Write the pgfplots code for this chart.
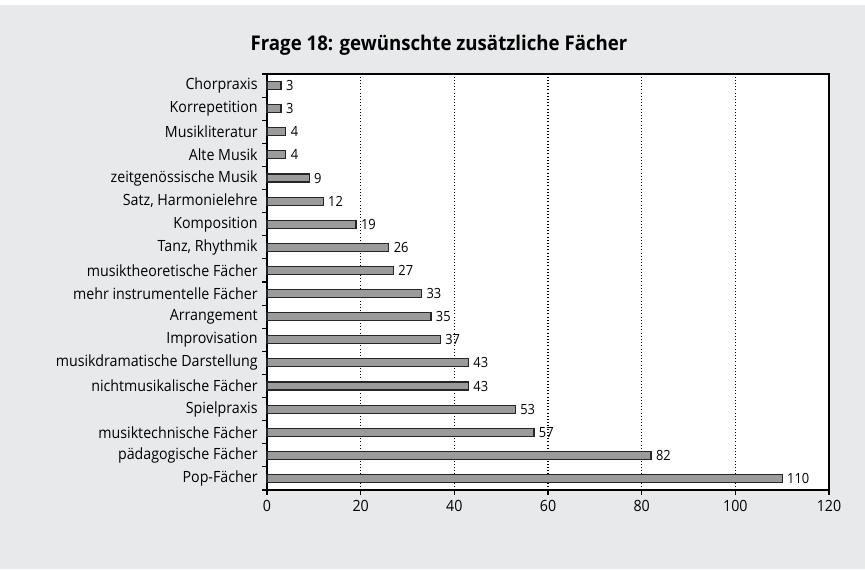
\documentclass[border=0pt]{standalone}
\usepackage{fontspec}
\setmainfont{Open Sans}[FakeStretch=0.92]
\usepackage{pgfplots}
\pgfplotsset{compat=1.18}
\definecolor{bg}{HTML}{E8E9EA}
\definecolor{barfill}{HTML}{9A9B9D}
\begin{document}
\begin{tikzpicture}
\fill[bg] (0pt,0pt) rectangle (648.75pt,423pt);
\path (0pt,0pt) rectangle (648.75pt,426.75pt);
\begin{axis}[
  at={(200.25pt,59.25pt)}, anchor=south west,
  scale only axis, width=421.5pt, height=312pt,
  xmin=0, xmax=120, ymin=-0.5, ymax=17.5,
  xtick={0,20,...,120},
  ytick={-0.5,0.5,...,17.5},
  y tick label as interval,
  yticklabels={Pop-Fächer,pädagogische Fächer,musiktechnische Fächer,Spielpraxis,nichtmusikalische Fächer,musikdramatische Darstellung,Improvisation,Arrangement,mehr instrumentelle Fächer,musiktheoretische Fächer,{Tanz, Rhythmik},Komposition,{Satz, Harmonielehre},zeitgenössische Musik,Alte Musik,Musikliteratur,Korrepetition,Chorpraxis},
  major tick length=3.5pt,
  tick align=outside,
  xtick pos=bottom, ytick pos=left,
  every tick/.style={black, line width=0.8pt},
  xmajorgrids,
  major x grid style={black, dotted, line width=0.8pt},
  axis line style={black, line width=0.9pt},
  axis background/.style={fill=white},
  tick label style={font=\fontsize{11.6}{14}\selectfont},
  /pgf/number format/assume math mode=true,
  xticklabel style={yshift=-1pt},
  yticklabel style={xshift=0pt},
  xbar, bar width=6pt,
  nodes near coords,
  every node near coord/.style={font=\fontsize{10.5}{12}\selectfont, black, anchor=west, xshift=0pt},
  clip=false,
]
\addplot[fill=barfill, draw=black!85, line width=0.9pt] coordinates {
(110,0) (82,1) (57,2) (53,3) (43,4) (43,5) (37,6) (35,7) (33,8) (27,9) (26,10) (19,11) (12,12) (9,13) (4,14) (4,15) (3,16) (3,17)
};
\end{axis}
\node[font=\fontsize{15.2}{18}\selectfont\bfseries] at (329.25pt,393pt) {Frage 18: gewünschte zusätzliche Fächer};
\end{tikzpicture}
\end{document}
